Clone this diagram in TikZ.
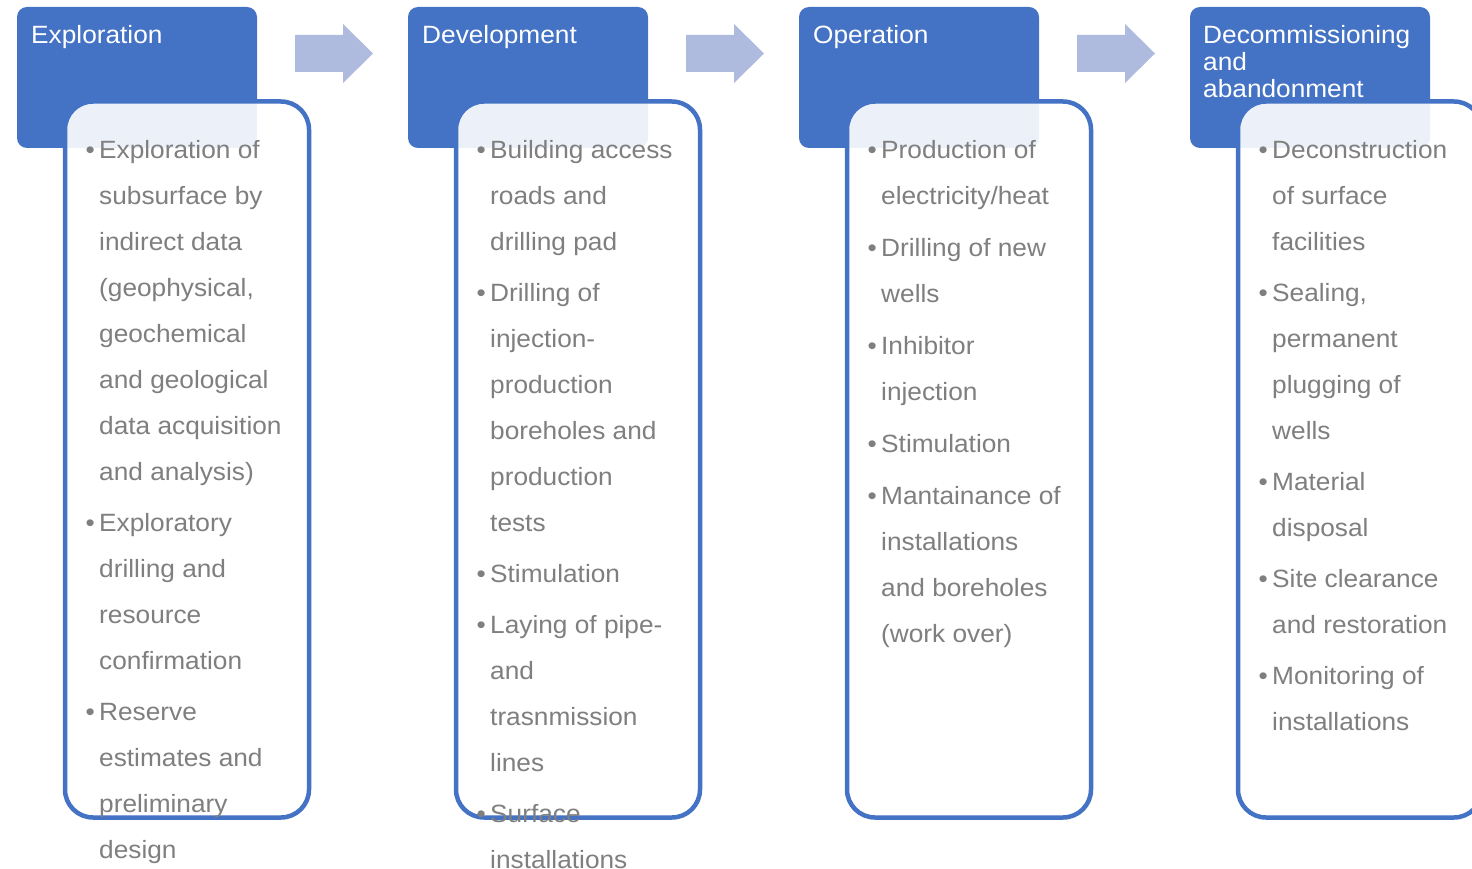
\documentclass[tikz,border=0pt]{standalone}
\usepackage{fontspec}
\setmainfont{Liberation Sans}[FakeStretch=1.05]
\definecolor{hdrblue}{HTML}{4472C4}
\definecolor{arrowblue}{RGB}{174,186,222}
\definecolor{bodygray}{HTML}{7F7F7F}
% bullet hung in the left margin of a list line
\newcommand\bul{\llap{\char"2022\hspace{4.5pt}}}
\tikzset{
  header/.style={fill=hdrblue, draw=none, rounded corners=10pt, inner sep=0pt,
    outer sep=0pt, minimum width=240pt, minimum height=141pt, anchor=north west},
  panel/.style={draw=hdrblue, line width=4.5pt, fill=white, fill opacity=0.9,
    draw opacity=1, rounded corners=28pt, inner sep=0pt, outer sep=0pt,
    minimum width=244pt, minimum height=716pt, anchor=north west},
  flowarrow/.style={fill=arrowblue, draw=none},
  title/.style={anchor=north west, inner sep=0pt, align=left, text=white,
    font=\fontsize{25}{27}\selectfont},
  body/.style={anchor=north west, inner sep=0pt, align=left, text=bodygray,
    font=\fontsize{25}{46}\selectfont},
}
\begin{document}
\begin{tikzpicture}[x=1pt,y=-1pt]
\useasboundingbox (0,0) rectangle (1472,869);
\clip (0,0) rectangle (1472,869);
% phase headers and their content panels
\foreach \i in {0,1,2,3} {
  \node[header] (h\i) at (17+391*\i,7) {};
}
\foreach \i in {0,1,2,3} {
  \node[panel] (p\i) at (65+391*\i,101.5) {};
}
% block arrows between the phases
\foreach \i in {0,1,2} {
  \fill[flowarrow] (295+391*\i,35) -- (343+391*\i,35) -- (343+391*\i,24)
    -- (373+391*\i,53.5) -- (343+391*\i,83) -- (343+391*\i,72)
    -- (295+391*\i,72) -- cycle;
}
% phase titles
\node[title] (t0) at (31,24.1) {\strut Exploration};
\node[title] (t1) at (422,24.1) {\strut Development};
\node[title] (t2) at (813,24.1) {\strut Operation};
\node[title] (t3) at (1203,24.1) {\strut Decommissioning\\and\\abandonment};
% activities of each phase
\node[body] (b0) at (99,125.6) {\strut\bul Exploration of\\subsurface by\\indirect data\\(geophysical,\\geochemical\\and geological\\data acquisition\\and analysis)\\[5pt]
\bul Exploratory\\drilling and\\resource\\confirmation\\[5pt]
\bul Reserve\\estimates and\\preliminary\\design};
\node[body] (b1) at (490,125.6) {\strut\bul Building access\\roads and\\drilling pad\\[5pt]
\bul Drilling of\\injection-\\production\\boreholes and\\production\\tests\\[5pt]
\bul Stimulation\\[5pt]
\bul Laying of pipe-\\and\\trasnmission\\lines\\[5pt]
\bul Surface\\installations};
\node[body] (b2) at (881,125.6) {\strut\bul Production of\\electricity/heat\\[6pt]
\bul Drilling of new\\wells\\[6pt]
\bul Inhibitor\\injection\\[6pt]
\bul Stimulation\\[6pt]
\bul Mantainance of\\installations\\and boreholes\\(work over)};
\node[body] (b3) at (1272,125.6) {\strut\bul Deconstruction\\of surface\\facilities\\[5pt]
\bul Sealing,\\permanent\\plugging of\\wells\\[5pt]
\bul Material\\disposal\\[5pt]
\bul Site clearance\\and restoration\\[5pt]
\bul Monitoring of\\installations};
\end{tikzpicture}
\end{document}
